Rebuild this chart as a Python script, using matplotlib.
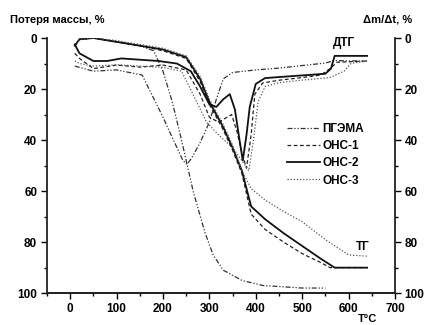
import matplotlib
matplotlib.use("Agg")
import matplotlib.pyplot as plt
from matplotlib.ticker import MultipleLocator

plt.rcParams['font.family'] = ['Liberation Sans', 'DejaVu Sans']
plt.rcParams['font.weight'] = 'bold'

# TG curves (mass loss, %)
tg_pgema_t = [10, 20, 50, 100, 150, 180, 200, 220, 240, 250, 265, 290, 308, 330, 370, 415, 500, 550]
tg_pgema = [3, 0.5, 0, 1.5, 3, 5, 13, 25, 40, 48, 60, 76, 85, 91, 95, 97, 98, 98]

tg_ons1_t = [10, 20, 50, 100, 150, 200, 250, 280, 300, 330, 350, 370, 390, 420, 460, 500, 540, 560, 640]
tg_ons1 = [3, 0.5, 0, 1.5, 3, 5, 8, 17, 26, 36, 44, 53, 69, 75, 80, 84.5, 88, 90, 90]

tg_ons2_t = [10, 20, 50, 100, 150, 200, 250, 280, 300, 330, 350, 370, 390, 420, 460, 500, 540, 570, 640]
tg_ons2 = [3, 0.5, 0, 1.5, 3, 4.5, 7.5, 16, 25, 35, 43, 52, 66, 71, 76.5, 81.5, 86.5, 90, 90]

tg_ons3_t = [10, 20, 50, 100, 150, 200, 250, 280, 300, 330, 350, 370, 390, 420, 460, 500, 550, 600, 640]
tg_ons3 = [3, 0.5, 0, 1, 2.5, 4, 7, 15, 24, 34, 42, 52, 59, 63.5, 68, 72, 79, 85, 85.5]

# DTG curves (dm/dt, %)
dtg_pgema_t = [10, 50, 100, 155, 170, 200, 220, 243, 252, 262, 280, 300, 315, 330, 350, 400, 450, 500, 550, 570, 600, 640]
dtg_pgema = [11, 13, 12.5, 14.5, 20, 31, 39, 48, 49.5, 47, 41, 33, 24, 16, 13.5, 12.5, 11.8, 10.8, 9.8, 8.8, 9, 9]

dtg_ons1_t = [10, 20, 50, 100, 150, 200, 250, 280, 300, 320, 348, 360, 370, 380, 390, 398, 415, 452, 500, 540, 560, 575, 640]
dtg_ons1 = [6, 8, 12, 10.6, 11.4, 10.6, 12.5, 22, 31, 33, 30, 37, 45, 51, 38, 22, 17.6, 16.5, 15.5, 14.5, 12, 9.5, 9]

dtg_ons2_t = [10, 20, 50, 80, 110, 150, 190, 230, 260, 280, 300, 315, 330, 344, 355, 365, 372, 380, 387, 400, 420, 450, 550, 562, 570, 640]
dtg_ons2 = [2.5, 6, 9, 9, 8, 8.5, 9, 10, 13, 19, 26, 27, 24, 22, 28, 40, 48, 38, 27, 18, 15.7, 15.3, 14, 12, 7, 7]

dtg_ons3_t = [10, 20, 50, 100, 150, 200, 240, 258, 294, 320, 350, 370, 385, 395, 405, 420, 450, 500, 560, 590, 605, 640]
dtg_ons3 = [9, 10, 11, 10.5, 11, 11.5, 13, 19.6, 33, 38, 43, 48, 52, 40, 25, 19, 17.5, 16.5, 15.5, 13, 10, 9]

names = ["ПГЭМА", "ОНС-1", "ОНС-2", "ОНС-3"]

styles = [
    dict(color="#333333", lw=0.9, dashes=(4, 1.5, 1, 1.5, 1, 1.5)),
    dict(color="#222222", lw=0.9, dashes=(3, 2)),
    dict(color="#111111", lw=1.3, linestyle="-"),
    dict(color="#555555", lw=0.9, dashes=(1, 1.5)),
]

fig = plt.figure(figsize=(4.27, 3.25), dpi=100)
ax = fig.add_axes([0.110, 0.098, 0.815, 0.785])
ax2 = ax.twinx()

tg = [(tg_pgema_t, tg_pgema), (tg_ons1_t, tg_ons1), (tg_ons2_t, tg_ons2), (tg_ons3_t, tg_ons3)]
dtg = [(dtg_pgema_t, dtg_pgema), (dtg_ons1_t, dtg_ons1), (dtg_ons2_t, dtg_ons2), (dtg_ons3_t, dtg_ons3)]

for (t, y), st in zip(tg, styles):
    ax.plot(t, y, **st)
handles = []
for (t, y), st, name in zip(dtg, styles, names):
    h, = ax2.plot(t, y, label=name, **st)
    handles.append(h)

for a in (ax, ax2):
    a.set_xlim(-50, 700)
    a.set_ylim(100, 0)
    a.spines['top'].set_visible(False)
    for s in a.spines.values():
        s.set_linewidth(1.3)
        s.set_color("#222222")
    a.yaxis.set_major_locator(MultipleLocator(20))
    a.yaxis.set_minor_locator(MultipleLocator(10))
    a.tick_params(axis='both', which='major', labelsize=8.5, length=4, width=1, direction='out', pad=3)
    a.tick_params(axis='both', which='minor', length=2.5, width=1, direction='out')

ax.xaxis.set_major_locator(MultipleLocator(100))
ax.xaxis.set_minor_locator(MultipleLocator(50))
ax2.spines['left'].set_visible(False)
ax.spines['right'].set_visible(False)

ax.legend(handles=handles, loc='upper left', bbox_to_anchor=(0.66, 0.71), frameon=False,
          fontsize=8.5, handlelength=2.8, handletextpad=0.2, labelspacing=0.45)

ax.text(591, 2, "ДТГ", fontsize=8.5, ha='center', va='center')
ax.text(630, 82, "ТГ", fontsize=8.5, ha='center', va='center')

fig.text(10 / 427, 1 - 20 / 325, "Потеря массы, %", fontsize=8, ha='left', va='center')
fig.text(412 / 427, 1 - 20 / 325, "Δm/Δt, %", fontsize=8, ha='right', va='center')
fig.text(368 / 427, 1 - 319 / 325, "T°C", fontsize=8, ha='center', va='center')

fig.savefig("out.png", dpi=100)
